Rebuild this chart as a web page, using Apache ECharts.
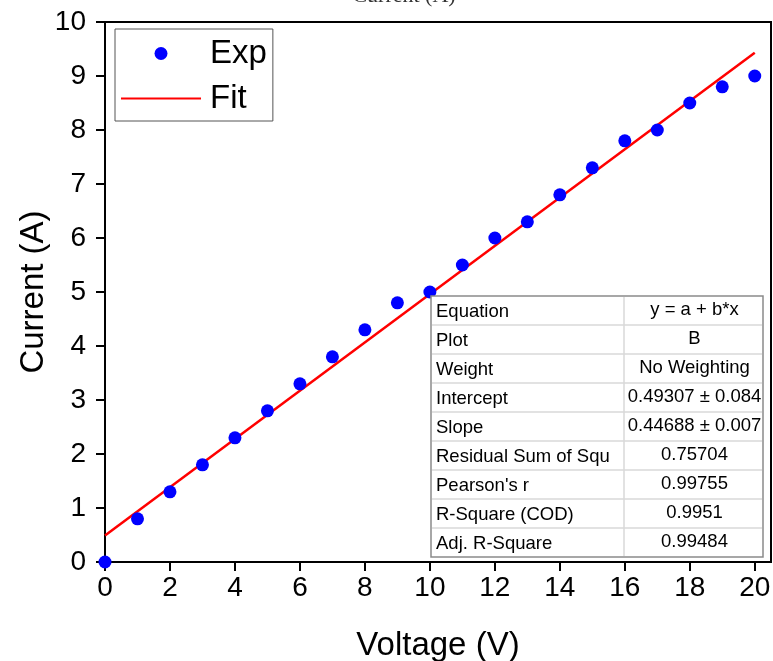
<!DOCTYPE html>
<html>
<head>
<meta charset="utf-8">
<script src="https://cdn.jsdelivr.net/npm/echarts@6/dist/echarts.min.js"></script>
<style>html,body{margin:0;padding:0;background:#fff}#c{width:773px;height:661px}</style>
</head>
<body>
<div id="c"></div>
<script>
const voltage = [0,1,2,3,4,5,6,7,8,9,10,11,12,13,14,15,16,17,18,19,20];
const current = [0,0.8,1.3,1.8,2.3,2.8,3.3,3.8,4.3,4.8,5.0,5.5,6.0,6.3,6.8,7.3,7.8,8.0,8.5,8.8,9.0];
const fitX = [0, 20];
const fitY = [0.49, 9.43];
const xTicks = [0,2,4,6,8,10,12,14,16,18,20];
const yTicks = [0,1,2,3,4,5,6,7,8,9,10];
const tableLabels = ['Equation','Plot','Weight','Intercept','Slope','Residual Sum of Squ',"Pearson's r",'R-Square (COD)','Adj. R-Square'];
const tableValues = ['y = a + b*x','B','No Weighting','0.49307 ± 0.084','0.44688 ± 0.007','0.75704','0.99755','0.9951','0.99484'];

const chart = echarts.init(document.getElementById('c'));
const font = 'Liberation Sans, Arial, sans-serif';

const tbl = {left: 431, top: 296, right: 763, split: 624, rowH: 29};
const tableGraphics = [];
const nRows = tableLabels.length;
const tblH = nRows * tbl.rowH;
tableGraphics.push({type:'rect', shape:{x:tbl.left, y:tbl.top, width:tbl.right-tbl.left, height:tblH},
  style:{fill:'#fff', stroke:'#8a8a8a', lineWidth:1.5}, z:100});
for (let i = 1; i < nRows; i++) {
  tableGraphics.push({type:'line', shape:{x1:tbl.left+1, y1:tbl.top+i*tbl.rowH, x2:tbl.right-1, y2:tbl.top+i*tbl.rowH},
    style:{stroke:'#d8d8d8', lineWidth:1.5}, z:101});
}
tableGraphics.push({type:'line', shape:{x1:tbl.split, y1:tbl.top+1, x2:tbl.split, y2:tbl.top+tblH-1},
  style:{stroke:'#d8d8d8', lineWidth:1.5}, z:101});
tableLabels.forEach((t, i) => {
  tableGraphics.push({type:'text', x:tbl.left+5, y:tbl.top+i*tbl.rowH+tbl.rowH/2+1,
    style:{text:t, fill:'#000', font:'18.5px '+font, textAlign:'left', textVerticalAlign:'middle'}, z:102});
});
tableValues.forEach((t, i) => {
  tableGraphics.push({type:'text', x:(tbl.split+tbl.right)/2 + 1, y:tbl.top+i*tbl.rowH+tbl.rowH/2-1,
    style:{text:t, fill:'#000', font:'18.5px '+font, textAlign:'center', textVerticalAlign:'middle'}, z:102});
});

chart.setOption({
  animation: false,
  grid: {left:105, right:2, top:22, bottom:99, show:true, borderColor:'#000', borderWidth:2,
         outerBoundsMode:'none', containLabel:false},
  graphic: [
    {type:'text', x:404, y:7, style:{text:'Current (A)', fill:'#333', font:'22px Liberation Serif, Times New Roman, serif', textAlign:'center', textVerticalAlign:'bottom'}},
    ...tableGraphics
  ],
  legend: {
    left: 115, top: 29, orient: 'vertical',
    padding: [8, 6, 6, 5], itemGap: 12,
    itemWidth: 80, itemHeight: 13,
    borderColor: '#555', borderWidth: 1,
    textStyle: {fontSize: 33, fontFamily: font, color: '#000', padding: [0,0,0,4]},
    data: [{name:'Exp'}, {name:'Fit', itemStyle:{opacity:0}}]
  },
  xAxis: {
    type: 'value', min: 0, max: 20.5,
    name: 'Voltage (V)', nameLocation: 'middle', nameGap: 67, nameMoveOverlap: false,
    nameTextStyle: {fontSize: 33, fontFamily: font, color: '#000'},
    axisLine: {show: true, lineStyle: {color: '#000', width: 2}},
    axisTick: {show: true, length: 9, lineStyle: {color: '#000', width: 2}, customValues: xTicks},
    axisLabel: {fontSize: 28, fontFamily: font, color: '#000', margin: 12, customValues: xTicks},
    splitLine: {show: false}
  },
  yAxis: {
    type: 'value', min: 0, max: 10, interval: 1,
    name: 'Current (A)', nameLocation: 'middle', nameGap: 55, nameMoveOverlap: false,
    nameTextStyle: {fontSize: 33, fontFamily: font, color: '#000'},
    axisLine: {show: true, lineStyle: {color: '#000', width: 2}},
    axisTick: {show: true, length: 9, lineStyle: {color: '#000', width: 2}, customValues: yTicks},
    axisLabel: {fontSize: 28, fontFamily: font, color: '#000', margin: 19, customValues: yTicks},
    splitLine: {show: false}
  },
  series: [
    {name: 'Exp', type: 'scatter', symbol: 'circle', symbolSize: 13,
     itemStyle: {color: '#0000ff', opacity: 1},
     data: voltage.map((v, i) => [v, current[i]]), z: 3},
    {name: 'Fit', type: 'line', symbol: 'none', showSymbol: false,
     lineStyle: {color: '#ff0000', width: 2.5}, itemStyle: {color: '#ff0000'},
     data: fitX.map((v, i) => [v, fitY[i]]), z: 2}
  ]
});
</script>
</body>
</html>
